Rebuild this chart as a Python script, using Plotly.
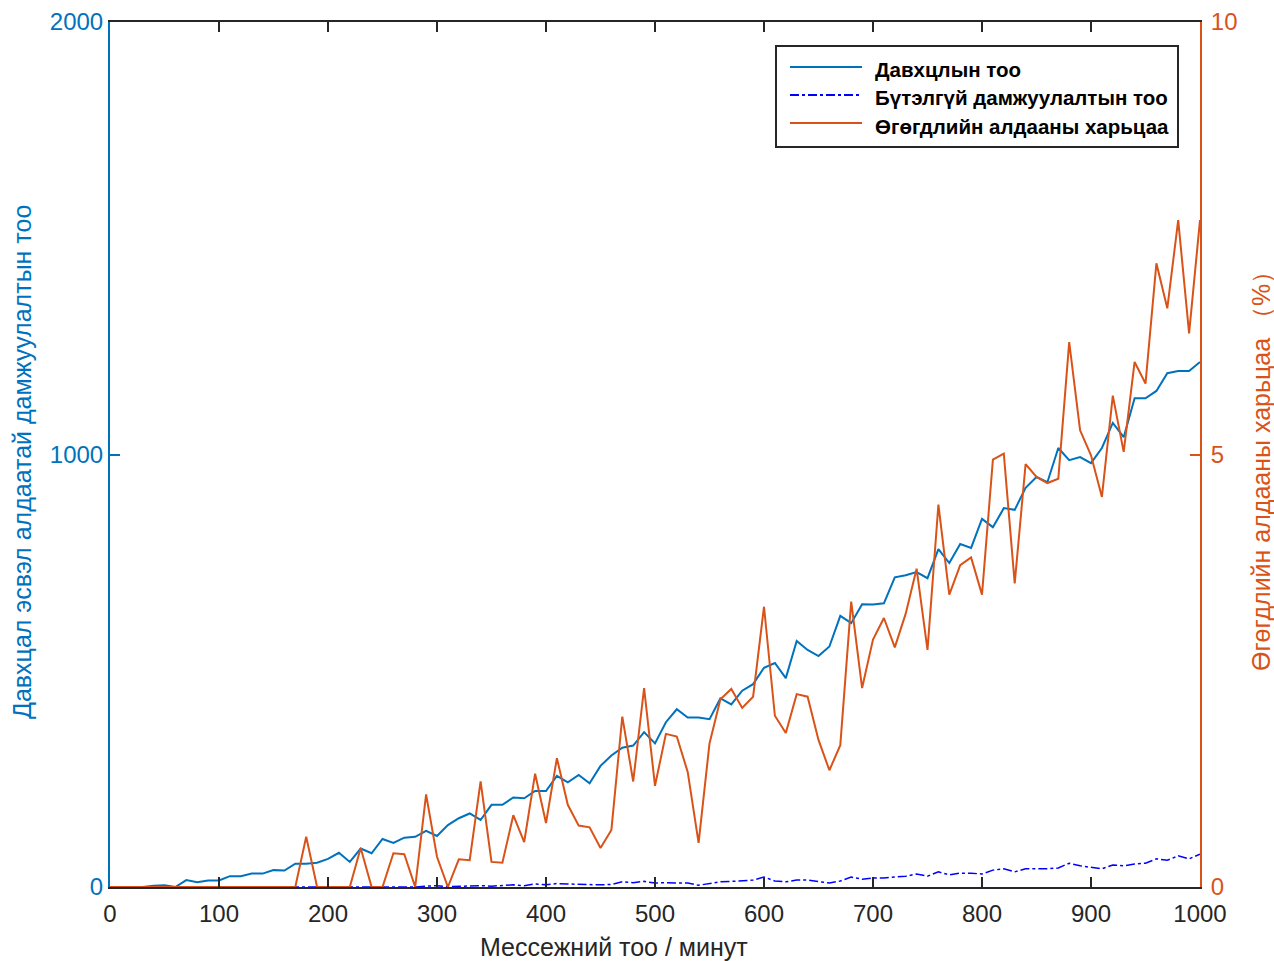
import plotly.graph_objects as go

# message rate (messages / minute)
msg_rate = list(range(0, 1001, 10))

collisions = [0, 0, 0, 0, 3, 4, 0, 16, 11, 15, 15, 25, 25, 31, 31, 39, 38, 54, 54, 56,
              65, 79, 58, 89, 78, 111, 102, 114, 116, 130, 118, 143, 159, 170, 155, 190, 190, 207, 205, 222,
              222, 257, 242, 259, 240, 280, 304, 322, 327, 358, 332, 381, 411, 392, 392, 388, 436, 422, 454, 469,
              507, 518, 483, 569, 548, 534, 556, 627, 610, 654, 653, 656, 716, 721, 728, 714, 781, 749, 793, 784,
              851, 832, 876, 872, 923, 948, 936, 1015, 987, 994, 980, 1015, 1073, 1040, 1130, 1130, 1147, 1188, 1193, 1193,
              1214]

failed_tx = [0, 0, 0, 0, 0, 0, 0, 0, 0, 0, 0, 0, 0, 0, 0, 0, 0, 0, 0, 0,
             0, 0, 0, 0, 0, 0, 0, 0, 0, 2, 3, 1, 2, 2, 3, 2, 4, 5, 3, 7,
             5, 8, 7, 6, 6, 5, 6, 12, 10, 13, 9, 10, 9, 9, 4, 8, 12, 13, 14, 16,
             23, 14, 12, 16, 16, 12, 9, 14, 23, 18, 21, 21, 23, 25, 30, 25, 35, 28, 32, 32,
             30, 39, 42, 35, 42, 42, 42, 44, 55, 49, 46, 42, 51, 49, 53, 55, 65, 62, 72, 65,
             76]

error_rate = [0, 0, 0, 0, 0, 0, 0, 0, 0, 0, 0, 0, 0, 0, 0, 0, 0, 0, 0.58, 0,
              0, 0, 0, 0.45, 0, 0, 0.39, 0.38, 0, 1.07, 0.35, 0, 0.32, 0.31, 1.22, 0.29, 0.28, 0.83, 0.52, 1.31,
              0.74, 1.49, 0.95, 0.71, 0.69, 0.45, 0.66, 1.97, 1.22, 2.30, 1.17, 1.77, 1.74, 1.33, 0.51, 1.66, 2.17, 2.29, 2.07, 2.20,
              3.24, 1.98, 1.78, 2.23, 2.20, 1.70, 1.35, 1.64, 3.30, 2.30, 2.86, 3.11, 2.77, 3.16, 3.68, 2.74, 4.42, 3.38, 3.72, 3.81,
              3.38, 4.94, 5.01, 3.51, 4.89, 4.74, 4.67, 4.72, 6.30, 5.28, 4.99, 4.51, 5.68, 5.03, 6.07, 5.82, 7.21, 6.69, 7.71, 6.40,
              7.71]

x_ticks = [0, 100, 200, 300, 400, 500, 600, 700, 800, 900, 1000]
y_left_ticks = [0, 1000, 2000]
y_right_ticks = [0, 5, 10]

names = ["Давхцлын тоо", "Бүтэлгүй дамжуулалтын тоо", "Өгөгдлийн алдааны харьцаа"]
x_title = "Мессежний тоо / минут"
y_left_title = "Давхцал эсвэл алдаатай дамжуулалтын тоо"
y_right_title = "Өгөгдлийн алдааны харьцаа （%）"

BLUE = "#0072BD"
ORANGE = "#D95319"
DD = "#0000FF"
GRAY = "#262626"
FONT = "Liberation Sans, Arial, sans-serif"
TICK = 24

fig = go.Figure()
fig.add_trace(go.Scatter(x=msg_rate, y=collisions, mode="lines", name=names[0],
                         line=dict(color=BLUE, width=2), showlegend=False))
fig.add_trace(go.Scatter(x=msg_rate, y=failed_tx, mode="lines", name=names[1],
                         line=dict(color=DD, width=1.5, dash="dashdot"), showlegend=False))
fig.add_trace(go.Scatter(x=msg_rate, y=error_rate, mode="lines", name=names[2], yaxis="y2",
                         line=dict(color=ORANGE, width=2), showlegend=False))

L, R, T, B = 110, 74, 22, 74
W, H = 1274, 961
pw, ph = W - L - R, H - T - B


def px(xp):
    return (xp - L) / pw


def py(yp):
    return (H - B - yp) / ph


fig.update_layout(
    width=W, height=H,
    margin=dict(l=L, r=R, t=T, b=B, autoexpand=False),
    plot_bgcolor="white", paper_bgcolor="white",
    font=dict(family=FONT, size=TICK, color=GRAY),
    xaxis=dict(range=[0, 1000], tickvals=x_ticks, ticks="inside", ticklen=10, tickwidth=1.5,
               tickcolor=GRAY, linecolor=GRAY, linewidth=1.5, mirror="ticks", automargin=False,
               ticklabelstandoff=4,
               showgrid=False, zeroline=False, tickfont=dict(size=TICK, color=GRAY)),
    yaxis=dict(range=[0, 2000], tickvals=y_left_ticks, ticks="inside", ticklen=10, tickwidth=1.5,
               tickcolor=BLUE, linecolor=BLUE, linewidth=2, showgrid=False, zeroline=False,
               automargin=False, tickfont=dict(size=TICK, color=BLUE)),
    yaxis2=dict(range=[0, 10], tickvals=y_right_ticks, ticks="inside", ticklen=10, tickwidth=1.5,
                tickcolor=ORANGE, linecolor=ORANGE, linewidth=2, showgrid=False, zeroline=False,
                overlaying="y", side="right", anchor="x", automargin=False, ticklabelstandoff=4,
                tickfont=dict(size=TICK, color=ORANGE)),
)

annotations = [
    dict(text=x_title, x=px(614), y=py(947), xref="paper", yref="paper", showarrow=False,
         xanchor="center", yanchor="middle", font=dict(size=25, color=GRAY)),
    dict(text=y_left_title, x=px(22), y=py(462), xref="paper", yref="paper", showarrow=False,
         xanchor="center", yanchor="middle", textangle=-90, font=dict(size=25, color=BLUE)),
    dict(text=y_right_title, x=px(1261), y=py(465), xref="paper", yref="paper", showarrow=False,
         xanchor="center", yanchor="middle", textangle=-90, font=dict(size=25, color=ORANGE)),
]

# legend box drawn in paper coordinates
shapes = [dict(type="rect", xref="paper", yref="paper", x0=px(776), x1=px(1178), y0=py(147), y1=py(46),
               line=dict(color=GRAY, width=2), fillcolor="white", layer="above")]
leg_rows = [69, 97, 125]
leg_styles = [dict(color=BLUE, width=2), dict(color=DD, width=2, dash="dashdot"), dict(color=ORANGE, width=2)]
for nm, ry, st in zip(names, leg_rows, leg_styles):
    shapes.append(dict(type="line", xref="paper", yref="paper", x0=px(790), x1=px(862), y0=py(ry - 2), y1=py(ry - 2),
                       line=st, layer="above"))
    annotations.append(dict(text=nm, x=px(873), y=py(ry + 1), xref="paper", yref="paper", showarrow=False,
                            xanchor="left", yanchor="middle",
                            font=dict(size=20.5, color="black", weight="bold")))

fig.update_layout(annotations=annotations, shapes=shapes)
fig.write_html("out.html", config={"displayModeBar": False},
               post_script="document.body.style.margin='0';document.body.style.overflow='hidden';")
